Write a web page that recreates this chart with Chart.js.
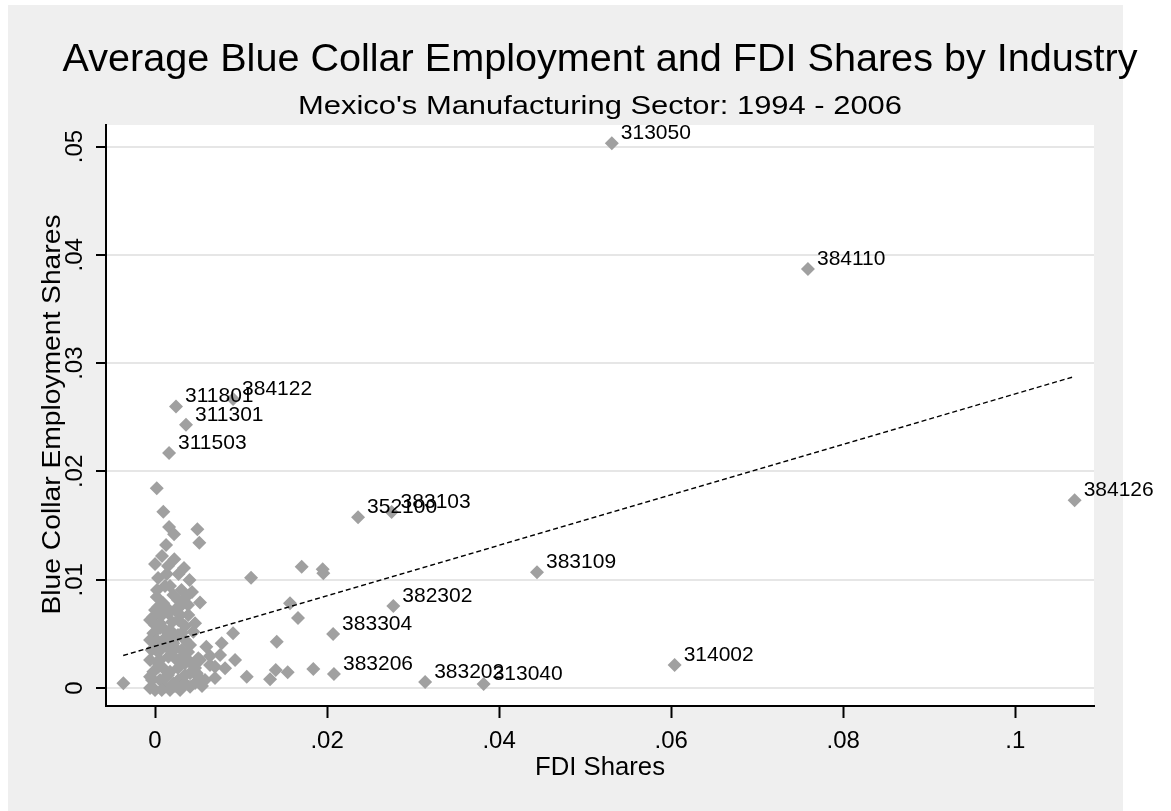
<!DOCTYPE html>
<html><head><meta charset="utf-8">
<script src="https://cdn.jsdelivr.net/npm/chart.js@4.4.1/dist/chart.umd.min.js"></script>
<style>html,body{margin:0;padding:0;background:#fff;}#wrap{position:relative;width:1171px;height:811px;}</style>
</head><body><div id="wrap"><canvas id="c" width="1171" height="811"></canvas></div>
<script>
const titleText = "Average Blue Collar Employment and FDI Shares by Industry";
const subtitleText = "Mexico's Manufacturing Sector: 1994 - 2006";
const xAxisTitle = "FDI Shares";
const yAxisTitle = "Blue Collar Employment Shares";
const xTickValues = [0, 0.02, 0.04, 0.06, 0.08, 0.1];
const xTickLabels = ["0", ".02", ".04", ".06", ".08", ".1"];
const yTickValues = [0, 0.01, 0.02, 0.03, 0.04, 0.05];
const yTickLabels = ["0", ".01", ".02", ".03", ".04", ".05"];

const labeledNames = ["313050","384110","384126","314002","383109","382302","383304","383206","383202","313040","352100","383103","311801","384122","311301","311503"];
const labeledX = [0.0531,0.0759,0.1069,0.0604,0.0444,0.0277,0.0207,0.0208,0.0314,0.0382,0.0236,0.0275,0.00244,0.00907,0.0036,0.00163];
const labeledY = [0.0503,0.0387,0.01735,0.00212,0.01068,0.00757,0.00498,0.00129,0.00055,0.00037,0.01576,0.01625,0.0260,0.0267,0.0243,0.0217];

const otherX = [0.0002,0.00096,0.00163,0.00221,0.00492,0.00515,0.00128,0,0.00224,0.00136,0.00273,0.00401,0.01116,0.01705,0.01949,0.01956,0.00116,0.0002,0.00213,0.0031,0.00523,0.00308,-0.0002,0.00155,0.00387,0.00465,0.00445,-0.0002,0.00174,-0.0004,0.00136,0.0031,0.00596,0.00775,0.00907,0.00756,0.00503,0.00639,0.00814,-0.00058,0.00038,0.00116,0.00271,0.00407,0.00349,0.00503,-0.00368,0.00232,0.00058,0.00252,0.00058,0.00271,0.00096,0.00174,-0.0002,0.00058,0.00213,0.00155,0.0002,0.00213,0.00038,0,0.0031,0.00349,0.00407,0.01569,0.01415,0.01662,0.0093,0.00523,0.00697,0.01066,0.01337,0.01403,0.01542,0.0184,0.00485,0.00078,0,0.00174,0.00232,-0.00035,0.00116,0.00267,0.00023,0.00325,0.00058,0.00232,0,0.00151,0.00349,0.00058,0.00198,0.00349,0,0.00139,0.00267,0.00023,0.00174,0.0043,0.00465,0.00581,0.00697,0.00639,
  -0.00058,-0.00058,-0.00058,0.00081,0.00232,0.00384,0.00291,0.00116,0.00267,0.00407,0.00093,0.00035,0.00198,0.00384,0.00093,0.00291,0.00407,-0.00058,0.00291,0.00151,0.00349,0.00465,0.00546,0.00035,0.00151,0.00337,0.0043,0.00349,0.00081];
const otherY = [0.01844,0.01628,0.01487,0.01419,0.01465,0.01342,0.0132,0.01145,0.01188,0.01053,0.01053,0.00997,0.01018,0.0112,0.01096,0.01059,0.00942,0.0084,0.00859,0.00766,0.00789,0.00905,0.00658,0.0069,0.00674,0.00597,0.0052,0.00505,0.00536,0.00351,0.00381,0.00351,0.00381,0.00413,0.00505,0.00305,0.00274,0.00212,0.00182,0.00104,0.00197,0.00012,0.00074,0.00136,0.00043,0.00104,0.00043,0.00274,0.00259,0.00474,0.00597,0.00628,0.00782,0.00151,0.00151,0.00074,0.00043,0.00289,0.00443,0.00413,0.00751,0.00582,0.00505,0.00228,0.00012,0.00782,0.00428,0.00646,0.00259,0.00259,0.00197,0.00104,0.0008,0.00166,0.00145,0.00175,0.00136,-0.00018,-0.00018,-0.00018,0.00018,0.00074,0.00092,0.00185,0.0024,0.00295,0.00351,0.00369,0.00425,0.00462,0.00443,0.00554,0.00609,0.00572,0.0072,0.00739,0.00813,0.00905,0.00942,0.00222,0.00046,0.00074,0.00092,0.00295,
  0.00259,0.00443,0.00628,0.00674,0.0072,0.00766,0.00674,0.00536,0.00489,0.00397,0.00443,0.00332,0.00332,0.00332,0.00185,0.00259,0.0024,0,-0.00018,0.0012,0.0012,0.00185,0.00018,0.01016,0.01127,0.01108,0.00886,0.00831,0.01219];

const fitX = [-0.0037, 0.1066];
const fitY = [0.0030, 0.0287];

const FONT = "'Liberation Sans', Arial, Helvetica, sans-serif";
Chart.defaults.font.family = FONT;
const MARKER = '#a0a0a0';

const toPts = (xs, ys) => xs.map((x, i) => ({x: x, y: ys[i]}));
const lookup = (vals, labels) => (v) => {
  const i = vals.findIndex(t => Math.abs(t - v) < 1e-9);
  return i >= 0 ? labels[i] : '';
};

function drawFitted(ctx, text, cx, cy, size, targetW, angle) {
  ctx.font = size + "px " + FONT;
  const w = ctx.measureText(text).width;
  const sx = targetW / w;
  ctx.save();
  ctx.translate(cx, cy);
  if (angle) ctx.rotate(angle);
  ctx.scale(sx, 1);
  ctx.textAlign = 'center';
  ctx.textBaseline = 'alphabetic';
  ctx.fillText(text, 0, 0);
  ctx.restore();
}

const bgPlugin = {
  id: 'bg',
  beforeDraw(chart) {
    const {ctx, chartArea: a} = chart;
    ctx.save();
    ctx.fillStyle = '#ffffff';
    ctx.fillRect(0, 0, chart.width, chart.height);
    ctx.fillStyle = '#efefef';
    ctx.fillRect(8, 5, 1115, 806);
    ctx.fillStyle = '#ffffff';
    ctx.fillRect(a.left, a.top, a.right - a.left, a.bottom - a.top);
    ctx.restore();
  }
};

const textPlugin = {
  id: 'texts',
  afterDatasetsDraw(chart) {
    const {ctx, chartArea: a} = chart;
    ctx.save();
    ctx.fillStyle = '#000';
    ctx.textAlign = 'left';
    ctx.textBaseline = 'alphabetic';
    ctx.font = "21px " + FONT;
    const meta = chart.getDatasetMeta(1);
    meta.data.forEach((p, i) => {
      ctx.fillText(labeledNames[i], p.x + 9, p.y - 4);
    });
    const cx = (a.left + a.right) / 2;
    const cy = (a.top + a.bottom) / 2;
    drawFitted(ctx, titleText, cx, 71, 38, 1075, 0);
    drawFitted(ctx, subtitleText, cx, 114, 26, 604, 0);
    drawFitted(ctx, xAxisTitle, cx, 775, 25, 130, 0);
    drawFitted(ctx, yAxisTitle, 60, cy - 1, 25, 400, -Math.PI / 2);
    ctx.restore();
  }
};

new Chart(document.getElementById('c'), {
  data: {
    datasets: [
      { type: 'line', data: toPts(fitX, fitY), borderColor: '#000', borderWidth: 1.4, borderDash: [5, 3], pointRadius: 0, fill: false, tension: 0 },
      { type: 'scatter', data: toPts(labeledX, labeledY), pointStyle: 'rectRot', pointRadius: 7, backgroundColor: MARKER, borderWidth: 0 },
      { type: 'scatter', data: toPts(otherX, otherY), pointStyle: 'rectRot', pointRadius: 7, backgroundColor: MARKER, borderWidth: 0 }
    ]
  },
  options: {
    responsive: false,
    animation: false,
    devicePixelRatio: 1,
    layout: { padding: { left: 0, right: 77, top: 125, bottom: 0 } },
    plugins: { legend: { display: false }, tooltip: { enabled: false } },
    scales: {
      x: {
        type: 'linear', min: -0.0057, max: 0.10915,
        afterBuildTicks: s => { s.ticks = xTickValues.map(v => ({value: v})); },
        afterFit: s => { s.height = 105; },
        ticks: { callback: lookup(xTickValues, xTickLabels), font: { size: 24 }, color: '#000', padding: 9, autoSkip: false, maxRotation: 0 },
        grid: { drawOnChartArea: false, drawTicks: true, tickLength: 12, tickColor: '#000', tickWidth: 2 },
        border: { display: true, color: '#000', width: 2 },
        title: { display: false, text: xAxisTitle }
      },
      y: {
        type: 'linear', min: -0.00166, max: 0.05199,
        afterBuildTicks: s => { s.ticks = yTickValues.map(v => ({value: v})); },
        afterFit: s => { s.width = 106; },
        ticks: { callback: lookup(yTickValues, yTickLabels), font: { size: 24 }, color: '#000', padding: 4, autoSkip: false, minRotation: 90, maxRotation: 90, crossAlign: 'center' },
        grid: { color: '#e6e6e6', lineWidth: 2, drawTicks: true, tickLength: 10, tickColor: '#000', tickWidth: 2 },
        border: { display: true, color: '#000', width: 2 },
        title: { display: false, text: yAxisTitle }
      }
    }
  },
  plugins: [bgPlugin, textPlugin]
});
</script></body></html>
